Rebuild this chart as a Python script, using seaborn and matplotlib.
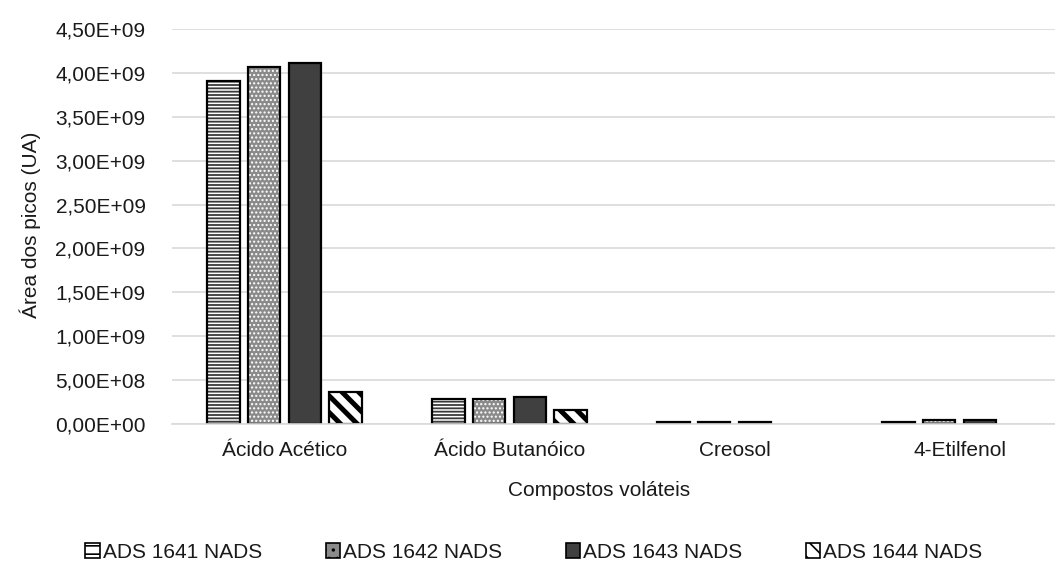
import matplotlib
matplotlib.use("Agg")
import matplotlib.pyplot as plt
import matplotlib.patches as mpatches
from matplotlib.ticker import FuncFormatter, MultipleLocator
import pandas as pd
import seaborn as sns

# Peak areas (UA) per volatile compound and sample
compostos = ["Ácido Acético", "Ácido Butanóico", "Creosol", "4-Etilfenol"]
amostras = ["ADS 1641 NADS", "ADS 1642 NADS", "ADS 1643 NADS", "ADS 1644 NADS"]
ads_1641 = [3.91e9, 2.80e8, 2.0e7, 2.0e7]
ads_1642 = [4.07e9, 2.80e8, 2.0e7, 4.0e7]
ads_1643 = [4.11e9, 3.10e8, 2.0e7, 5.0e7]
ads_1644 = [3.60e8, 1.65e8, 0.0, 0.0]

rows = []
for nome, vals in zip(amostras, [ads_1641, ads_1642, ads_1643, ads_1644]):
    for comp, v in zip(compostos, vals):
        rows.append({"Composto": comp, "Amostra": nome, "Area": v})
df = pd.DataFrame(rows)

sns.set_theme(style="white")
plt.rcParams["font.family"] = ["Liberation Sans", "DejaVu Sans"]
plt.rcParams["hatch.linewidth"] = 1.2

FS = 15
TXT = "#1a1a1a"
fig = plt.figure(figsize=(10.55, 5.67), dpi=100)
ax = fig.add_axes([172 / 1055, 1 - 424 / 567, 900 / 1055, 395 / 567])

sns.barplot(data=df, x="Composto", y="Area", hue="Amostra", order=compostos,
            hue_order=amostras, width=0.725, gap=0.2, errorbar=None,
            palette=["white"] * 4, legend=False, ax=ax)

# fill, hatch pattern, hatch colour, hatch line width per sample
styles = [
    ("white", "-----", "#3a3a3a", 1.3),
    ("#8a8a8a", "....", "white", 1.0),
    ("#404040", None, "#404040", 1.0),
    ("white", "\\\\", "black", 3.6),
]

for cont, (fc, hatch, hc, hlw) in zip(ax.containers, styles):
    for p in cont.patches:
        p.set_facecolor(fc)
        p.set_edgecolor(hc)
        p.set_linewidth(0)
        p.set_hatch(hatch)
        if hasattr(p, "set_hatch_linewidth"):
            p.set_hatch_linewidth(hlw)
        if p.get_height() > 0:
            ax.add_patch(mpatches.Rectangle(p.get_xy(), p.get_width(), p.get_height(),
                                            fill=False, ec="black", lw=1.6,
                                            zorder=p.get_zorder() + 0.1))

ax.set_ylim(0, 4.5e9)
ax.set_xlim(-0.5, 3.5)
ax.yaxis.set_major_locator(MultipleLocator(5e8))
ax.yaxis.set_major_formatter(FuncFormatter(lambda v, _: f"{v:.2E}".replace(".", ",")))
ax.grid(axis="y", color="#d9d9d9", lw=1.2)
ax.set_axisbelow(True)
for s in ["top", "right", "left"]:
    ax.spines[s].set_visible(False)
ax.spines["bottom"].set_color("#d9d9d9")
ax.spines["bottom"].set_linewidth(1.2)
ax.tick_params(axis="y", length=0, pad=19, labelsize=FS, labelcolor=TXT)
ax.tick_params(axis="x", length=0, pad=12, labelsize=FS, labelcolor=TXT)

ax.set_xlabel("Compostos voláteis", fontsize=FS, color=TXT)
ax.xaxis.set_label_coords(0.474, -0.145)
ax.set_ylabel("Área dos picos (UA)", fontsize=FS, color=TXT)
ax.yaxis.set_label_coords(-0.146, 0.504)

handles = []
for nome, (fc, hatch, hc, hlw) in zip(amostras, styles):
    handles.append(mpatches.Patch(facecolor=fc, edgecolor="black",
                                  hatch=None if hatch is None else hatch[:2],
                                  lw=1.2, label=nome))
fig.legend(handles=handles, loc="center", bbox_to_anchor=(534 / 1055, 1 - 552 / 567),
           ncol=4, frameon=False, fontsize=FS, handlelength=0.7, handleheight=0.7,
           handletextpad=0.15, columnspacing=3.03, labelcolor=TXT)

fig.savefig("out.png", dpi=100)
